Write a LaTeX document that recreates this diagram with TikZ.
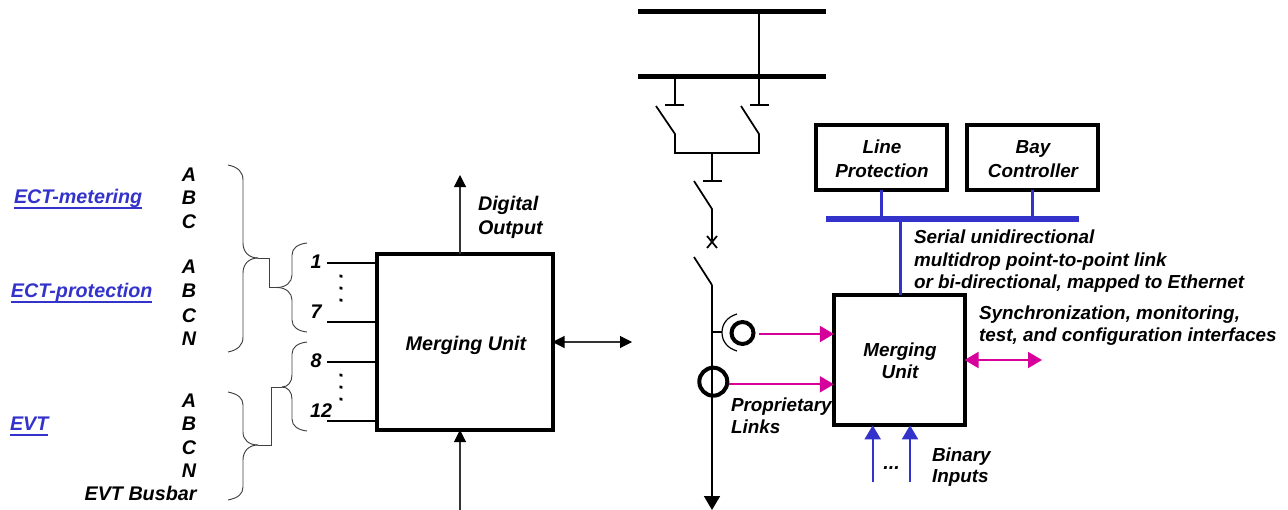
\documentclass[tikz,border=0pt]{standalone}
\usepackage{fontspec}
\setmainfont{Liberation Sans}
\usetikzlibrary{arrows.meta}
\definecolor{linkblue}{HTML}{3333CC}
\definecolor{linkpink}{HTML}{D6009A}
\newcommand{\ulink}[1]{\setbox0\hbox{#1}\rlap{\rule[-4.4pt]{\wd0}{1.5pt}}\box0}
\tikzset{
  every node/.style={font=\fontsize{14.8pt}{17pt}\selectfont\bfseries\itshape,inner sep=0pt,outer sep=0pt},
  smallfont/.style={font=\fontsize{14.15pt}{15pt}\selectfont\bfseries\itshape},
  smalltxt/.style={smallfont,anchor=base west},
  smallmid/.style={smallfont,anchor=base},
  lbl/.style={anchor=base},
  leftlbl/.style={anchor=base west},
  vdots/.style={rotate=-90,anchor=center},
  bigbox/.style={draw=black,line width=3pt,fill=white,minimum width=132pt,minimum height=132pt},
  topbox/.style={draw=black,line width=3pt,fill=white,minimum width=98pt,minimum height=49pt},
  wire/.style={draw=black,line width=1.2pt},
  brc/.style={draw=black!75,line width=0.7pt},
  busbar/.style={draw=black,line width=3.75pt},
  sw/.style={draw=black,line width=1.3pt},
  bk/.style={-{Triangle[length=9pt,width=9pt,color=black]},line width=0.8pt,draw=black!80},
  bkb/.style={{Triangle[length=9pt,width=9pt,color=black]}-{Triangle[length=9pt,width=9pt,color=black]},line width=0.8pt,draw=black!80},
  pk/.style={draw=linkpink,line width=1.5pt,-{Triangle[length=10.5pt,width=12pt]}},
  pkb/.style={draw=linkpink,line width=1.5pt,{Triangle[length=10.5pt,width=12pt]}-{Triangle[length=10.5pt,width=12pt]}},
  bl/.style={draw=linkblue,line width=1.5pt,-{Triangle[length=10.5pt,width=12pt]}},
  blbus/.style={draw=linkblue,line width=5pt},
  blstem/.style={draw=linkblue,line width=2.6pt},
  ct/.style={draw=black,line width=3pt,circle},
}
\begin{document}
\begin{tikzpicture}[x=0.75pt,y=-0.75pt]
\useasboundingbox (0,0) rectangle (1288,510);
% left labels
\node[leftlbl,text=linkblue] (em) at (14,203) {\ulink{ECT-metering}};
\node[leftlbl,text=linkblue] (ep) at (11,297) {\ulink{ECT-protection}};
\node[leftlbl,text=linkblue] (ev) at (10,430) {\ulink{EVT}};
\foreach \n/\t/\y in {a1/A/181,b1/B/204,c1/C/228,a2/A/273,b2/B/297,c2/C/322,n2/N/345,a3/A/407,b3/B/430,c3/C/454,n3/N/477}
  \node[lbl] (\n) at (189,\y) {\t};
\node[anchor=base east] (bus) at (196.5,500) {EVT Busbar};
% merging unit left
\node[bigbox] (mu) at (464.5,342) {};
\node[lbl] (mut) at (466,350) {Merging Unit};
\node[lbl] (l1) at (316,268) {1};
\node[lbl] (l7) at (316,318) {7};
\node[lbl] (l8) at (316,367) {8};
\node[lbl] (l12) at (321,417) {12};
\coordinate (s1) at (327,263); \coordinate (s7) at (327,322);
\coordinate (s8) at (327,362); \coordinate (s12) at (327,421);
\draw[wire] (s1) -- (s1 -| mu.west);
\draw[wire] (s7) -- (s7 -| mu.west);
\draw[wire] (s8) -- (s8 -| mu.west);
\draw[wire] (s12) -- (s12 -| mu.west);
\node[vdots] (d1) at (341,289.5) {.\kern4.9pt.\kern4.9pt.};
\node[vdots] (d2) at (341,388.5) {.\kern4.9pt.\kern4.9pt.};
% braces
\coordinate (t1) at (258,258); \coordinate (t2) at (277,287.5);
\coordinate (t3) at (282,387); \coordinate (t4) at (258,445);
\draw[brc] (228,165) .. controls (238,167) and (243,172) .. (243,180) -- (243,243) .. controls (243,252) and (249,258) .. (t1);
\draw[brc] (228,352) .. controls (238,350) and (243,345) .. (243,337) -- (243,273) .. controls (243,264) and (249,258) .. (t1);
\draw[brc] (307,243) .. controls (298,244) and (292,248) .. (292,255) -- (292,275) .. controls (292,282) and (286,287.5) .. (t2);
\draw[brc] (307,332) .. controls (298,331) and (292,327) .. (292,320) -- (292,300) .. controls (292,293) and (286,287.5) .. (t2);
\draw[brc] (307,342) .. controls (298,343) and (292,347) .. (292,354) -- (292,375) .. controls (292,382) and (288,387) .. (t3);
\draw[brc] (307,431) .. controls (298,430) and (292,426) .. (292,419) -- (292,399) .. controls (292,392) and (288,387) .. (t3);
\draw[brc] (228,392) .. controls (238,394) and (243,398) .. (243,405) -- (243,432) .. controls (243,440) and (249,445) .. (t4);
\draw[brc] (228,500) .. controls (238,498) and (243,494) .. (243,487) -- (243,460) .. controls (243,451) and (249,445) .. (t4);
\draw[brc] (t1) -- (269,258) -- (269,287.5) -- (t2);
\draw[brc] (t3) -- (271,387) -- (271,445) -- (t4);
% arrows left box
\coordinate (dout) at (460,175);
\coordinate (bin) at (460,510);
\coordinate (bir) at (632,342);
\draw[bk] (dout |- mu.north) -- (dout);
\draw[bk] (bin) -- (bin |- mu.south);
\draw[bkb] (mu.east) -- (bir);
\node[leftlbl] (dg) at (478,210) {Digital};
\node[leftlbl] (ou) at (478,234) {Output};
% busbars
\coordinate (b1a) at (638,11.5); \coordinate (b1b) at (826,11.5);
\coordinate (b2a) at (638,77); \coordinate (b2b) at (826,77);
\draw[busbar] (b1a) -- (b1b);
\draw[busbar] (b2a) -- (b2b);
\draw[sw] (759,11.5) -- (759,105);
\draw[sw] (750,105) -- (769,105);
\draw[sw] (675,77) -- (675,105);
\draw[sw] (665,105) -- (684,105);
\draw[sw] (656,106) -- (675,134) -- (675,153) -- (759,153) -- (759,134) -- (741,106);
\draw[sw] (712,153) -- (712,181);
\draw[sw] (703,181) -- (722,181);
\draw[sw] (694,181) -- (712,209) -- (712,240);
\draw[sw] (707,236) -- (717,248);
\draw[sw] (717,236) -- (707,248);
\draw[sw] (694,257) -- (712,285);
\coordinate (down) at (712,510);
\draw[-{Triangle[length=10.5pt,width=12pt]},line width=1.3pt] (712,285) -- (down);
% CTs
\node[ct,minimum size=16.5pt] (ct1) at (742.5,333) {};
\node[ct,minimum size=21pt] (ct2) at (713.3,381.7) {};
\draw[sw] (712,332) -- (722,332);
\draw[draw=black,line width=0.9pt] (737,314) .. controls (727,317) and (722,324) .. (722,332.5) .. controls (722,341) and (727,348) .. (737,351);
% merging unit right
\node[bigbox,minimum width=98pt,minimum height=98pt] (mr) at (899.2,360) {};
\node[smallmid] (mr1) at (900,356) {Merging};
\node[smallmid] (mr2) at (900,378) {Unit};
\coordinate (ctout1) at (759,334);
\coordinate (ctout2) at (729.3,384.3);
\draw[pk] (ctout1) -- (ctout1 -| mr.west);
\draw[pk] (ctout2) -- (ctout2 -| mr.west);
\coordinate (syncend) at (1042,360);
\draw[pkb] (mr.east |- syncend) -- (syncend);
\coordinate (bi1) at (872.7,482); \coordinate (bi2) at (910,482);
\draw[bl] (bi1) -- (bi1 |- mr.south);
\draw[bl] (bi2) -- (bi2 |- mr.south);
\node[lbl] (dots) at (891.5,469) {...};
\node[smalltxt] (bi) at (932,461.5) {Binary};
\node[smalltxt] (in) at (932,482) {Inputs};
\node[smalltxt] (pr) at (731,411.5) {Proprietary};
\node[smalltxt] (li) at (731,433) {Links};
% top boxes
\node[topbox] (lp) at (881.75,157.75) {};
\node[topbox] (bc) at (1032.5,157.75) {};
\node[smallmid] (lp1) at (882,153) {Line};
\node[smallmid] (lp2) at (882,177) {Protection};
\node[smallmid] (bc1) at (1033,153) {Bay};
\node[smallmid] (bc2) at (1033,177) {Controller};
\coordinate (ba) at (825.7,219); \coordinate (bb) at (1079,219);
\draw[blbus] (ba) -- (bb);
\draw[blstem] (lp.south) -- (lp.south |- ba);
\draw[blstem] (bc.south) -- (bc.south |- ba);
\coordinate (st) at (900.7,219);
\draw[blstem] (st) -- (st |- mr.north);
\node[smalltxt] (s1t) at (914,243) {Serial unidirectional};
\node[smalltxt] (s2t) at (914,266) {multidrop point-to-point link};
\node[smalltxt] (s3t) at (914,288) {or bi-directional, mapped to Ethernet};
\node[smalltxt] (y1t) at (979,319) {Synchronization, monitoring,};
\node[smalltxt] (y2t) at (979,341) {test, and configuration interfaces};
\end{tikzpicture}
\end{document}
